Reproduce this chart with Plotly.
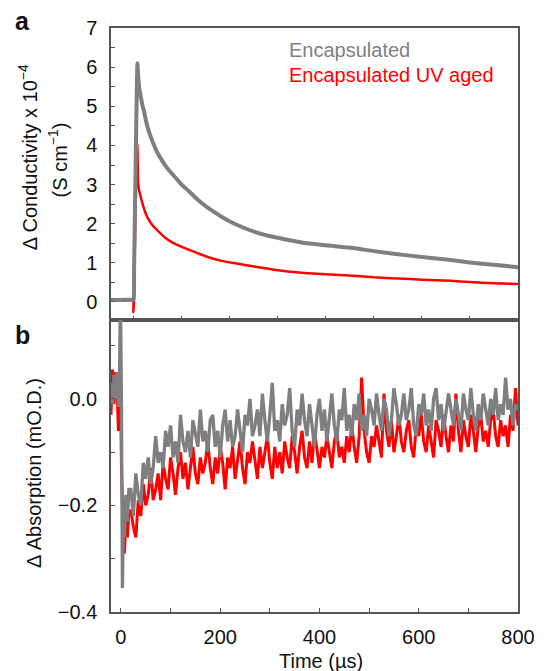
import plotly.graph_objects as go

# ---------------- Panel a: conductivity (x 10^-4 S cm^-1) ----------------
t_a_gray = [-47, -30, -15, -2, 0, 1, 2, 3, 4, 5, 6, 7, 8, 9, 10, 12, 15, 18, 22, 26, 32,
            40, 49, 60, 70, 82, 100, 116, 133, 150, 165, 183, 210, 255, 300, 350, 400,
            457, 500, 550, 600, 660, 700, 750, 800]
cond_gray = [0.06, 0.05, 0.06, 0.05, 0.06, 0.8, 1.6, 2.5, 3.3, 4.1, 4.9, 5.6, 6.1, 5.9, 5.7,
             5.45, 5.25, 5.05, 4.85, 4.62, 4.35, 4.08, 3.83, 3.6, 3.42, 3.25, 3.0, 2.82,
             2.62, 2.45, 2.32, 2.18, 2.0, 1.78, 1.64, 1.52, 1.45, 1.38, 1.3, 1.22, 1.15,
             1.07, 1.01, 0.95, 0.89]

t_a_red = [-47, -30, -15, -1, -0.5, 0.5, 1, 2, 3, 4, 5, 6, 7, 8, 8.5, 9.5, 11, 14.8, 20, 28,
           38, 48.6, 65, 82, 100, 116, 150, 183, 220, 255, 296, 350, 400, 457, 500, 550,
           600, 660, 700, 750, 800]
cond_red = [0.04, 0.04, 0.04, 0.03, -0.26, -0.1, 0.3, 1.0, 1.7, 2.3, 2.9, 3.4, 3.8, 4.05,
            3.6, 3.05, 2.88, 2.69, 2.45, 2.18, 1.98, 1.84, 1.65, 1.51, 1.41, 1.33, 1.17,
            1.05, 0.97, 0.9, 0.82, 0.75, 0.71, 0.67, 0.63, 0.6, 0.57, 0.54, 0.51, 0.48,
            0.46]

# ---------------- Panel b: transient absorption (mO.D.) ----------------
t_b = [-20, -17, -14, -11, -8, -5, -3, -1, 1, 3, 5, 7, 10, 13, 16] + list(range(20, 801, 5))

abs_gray = [
    0.03, -0.01, 0.045, 0.0, 0.05, -0.015, 0.03, 0.2, 0.0, -0.355, -0.22, -0.26, -0.18, -0.23, -0.17,
    -0.17, -0.22, -0.14, -0.18, -0.20, -0.12, -0.15, -0.11, -0.16, -0.13,
    -0.07, -0.12, -0.10, -0.13, -0.06, -0.09, -0.05, -0.11, -0.08, -0.12,
    -0.03, -0.08, -0.10, -0.06, -0.11, -0.04, -0.07, -0.09, -0.02, -0.08,
    -0.06, -0.10, -0.04, -0.03, -0.09, -0.06, -0.11, -0.05, -0.02, -0.08,
    -0.04, -0.09, -0.07, -0.02, -0.06, -0.10, -0.03, -0.05, 0.00, -0.07,
    -0.05, -0.02, -0.07, 0.01, -0.04, -0.08, -0.03, 0.03, -0.06, -0.04,
    -0.08, -0.01, -0.05, -0.03, 0.02, -0.06, -0.09, -0.02, -0.05, 0.01,
    -0.04, -0.07, -0.01, -0.05, -0.09, -0.03, 0.00, -0.06, -0.02, -0.08,
    -0.03, 0.01, -0.05, -0.08, -0.02, -0.04, 0.02, -0.06, -0.03, -0.07,
    -0.01, -0.04, 0.01, -0.06, -0.03, -0.07, 0.00, -0.02, -0.05, 0.01,
    -0.03, -0.06, 0.00, -0.02, -0.07, -0.04, 0.02, -0.01, -0.05, -0.03,
    0.01, -0.04, -0.02, 0.02, -0.05, -0.07, -0.01, -0.03, 0.01, -0.05,
    -0.02, -0.06, 0.00, 0.02, -0.04, -0.01, -0.06, -0.03, 0.01, -0.02,
    -0.05, 0.00, -0.03, -0.06, 0.01, -0.02, -0.04, 0.02, -0.03, -0.06,
    -0.01, -0.04, 0.01, -0.02, -0.05, 0.00, -0.03, 0.02, -0.04, -0.01,
    -0.03, 0.04, -0.02, 0.00, -0.05, -0.01, -0.02,
]

abs_red = [
    -0.03, 0.055, -0.01, 0.05, 0.02, -0.06, 0.03, 0.04, -0.12, -0.2, -0.28, -0.29, -0.23, -0.26, -0.21,
    -0.21, -0.24, -0.26, -0.19, -0.22, -0.16, -0.20, -0.18, -0.13, -0.19,
    -0.17, -0.14, -0.19, -0.12, -0.15, -0.17, -0.11, -0.14, -0.18, -0.13,
    -0.10, -0.15, -0.12, -0.17, -0.13, -0.09, -0.14, -0.16, -0.11, -0.14,
    -0.12, -0.08, -0.13, -0.16, -0.11, -0.14, -0.09, -0.12, -0.17, -0.11,
    -0.13, -0.09, -0.15, -0.11, -0.08, -0.13, -0.16, -0.10, -0.12, -0.08,
    -0.12, -0.15, -0.09, -0.13, -0.10, -0.07, -0.12, -0.15, -0.09, -0.13,
    -0.10, -0.14, -0.08, -0.11, -0.13, -0.07, -0.10, -0.14, -0.09, -0.06,
    -0.11, -0.13, -0.08, -0.12, -0.06, -0.10, -0.13, -0.09, -0.11, -0.07,
    -0.10, -0.13, -0.08, -0.06, -0.11, -0.09, -0.12, -0.07, -0.10, -0.05,
    -0.09, -0.12, -0.07, 0.04, -0.06, -0.10, -0.12, -0.07, -0.09, -0.05,
    -0.08, -0.11, 0.01, -0.06, -0.09, -0.04, -0.10, -0.07, -0.03, -0.08,
    -0.10, -0.06, -0.04, -0.09, -0.11, -0.05, -0.07, -0.03, -0.08, -0.10,
    -0.05, -0.08, -0.11, -0.04, -0.06, -0.09, -0.03, -0.07, -0.10, -0.05,
    -0.08, 0.01, -0.06, -0.10, -0.04, -0.07, -0.09, -0.03, -0.06, -0.10,
    -0.05, -0.03, -0.08, -0.06, -0.09, -0.04, -0.02, -0.07, -0.09, -0.04,
    -0.07, -0.05, -0.09, -0.03, -0.06, 0.02, -0.05,
]

assert len(t_b) == len(abs_gray) == len(abs_red)
assert len(t_a_gray) == len(cond_gray) and len(t_a_red) == len(cond_red)

series_names = ["Encapsulated", "Encapsulated UV aged"]
GRAY = "#7f7f7f"
RED = "#ff0000"
FONT = "Liberation Sans, Arial, Helvetica, sans-serif"
FRAME = "#555555"

fig = go.Figure()
fig.add_trace(go.Scatter(x=t_a_red, y=cond_red, mode="lines", name=series_names[1],
                         line=dict(color=RED, width=2.5, shape="spline", smoothing=0.5),
                         xaxis="x", yaxis="y"))
fig.add_trace(go.Scatter(x=t_a_gray, y=cond_gray, mode="lines", name=series_names[0],
                         line=dict(color=GRAY, width=4, shape="spline", smoothing=0.5),
                         xaxis="x", yaxis="y"))
fig.add_trace(go.Scatter(x=t_b, y=abs_red, mode="lines", name=series_names[1],
                         line=dict(color=RED, width=3), xaxis="x2", yaxis="y2"))
fig.add_trace(go.Scatter(x=t_b, y=abs_gray, mode="lines", name=series_names[0],
                         line=dict(color=GRAY, width=3.3), xaxis="x2", yaxis="y2"))

axis_common = dict(showline=True, linecolor=FRAME, linewidth=1.5, mirror=True,
                   showgrid=False, zeroline=False, ticks="inside", ticklen=4,
                   tickwidth=1.2, tickcolor=FRAME,
                   tickfont=dict(family=FONT, size=20, color="#111111"))

fig.update_layout(
    width=547, height=671,
    margin=dict(l=111, r=18, t=28, b=59),
    paper_bgcolor="white", plot_bgcolor="white",
    showlegend=False,
    font=dict(family=FONT, size=20, color="#111111"),
    xaxis=dict(axis_common, domain=[0, 1], anchor="y", range=[-47, 800],
               tick0=0, dtick=100, showticklabels=False),
    yaxis=dict(axis_common, domain=[0.5, 1], anchor="x", range=[-0.46, 7],
               tick0=0, dtick=1, ticklabelstandoff=8,
               minor=dict(tick0=0, dtick=0.5, ticks="inside", ticklen=4,
                          tickcolor=FRAME, showgrid=False)),
    xaxis2=dict(axis_common, domain=[0, 1], anchor="y2", range=[-20, 800],
                tick0=0, dtick=200, ticklabelstandoff=6,
                minor=dict(tick0=0, dtick=100, ticks="inside", ticklen=4,
                           tickcolor=FRAME, showgrid=False)),
    yaxis2=dict(axis_common, domain=[0, 0.5], anchor="x2", range=[-0.4, 0.148],
                tick0=0, dtick=0.2, tickformat=".1f", ticklabelstandoff=8,
                minor=dict(tick0=0, dtick=0.1, ticks="inside", ticklen=4,
                           tickcolor=FRAME, showgrid=False)),
)

ann = [
    dict(text="<b>a</b>", x=-0.2177, y=1.012, font=dict(size=25)),
    dict(text="<b>b</b>", x=-0.2177, y=0.474, font=dict(size=25)),
    dict(text="Δ Conductivity x 10<sup>−4</sup>", x=-0.2057, y=0.779, textangle=-90),
    dict(text="(S cm<sup>−1</sup>)", x=-0.1292, y=0.774, textangle=-90),
    dict(text="Δ Absorption (mO.D.)", x=-0.189, y=0.238, textangle=-90),
    dict(text="Time (µs)", x=0.5167, y=-0.0839),
    dict(text=series_names[0], x=0.433, y=0.9623, xanchor="left", font=dict(color=GRAY)),
    dict(text=series_names[1], x=0.433, y=0.9195, xanchor="left", font=dict(color=RED)),
]
for a in ann:
    base = dict(xref="paper", yref="paper", showarrow=False, xanchor="center",
                yanchor="middle", font=dict(family=FONT, size=20, color="#111111"))
    f = dict(base["font"])
    f.update(a.pop("font", {}))
    base.update(a)
    base["font"] = f
    fig.add_annotation(**base)

fig.write_html("out.html")
